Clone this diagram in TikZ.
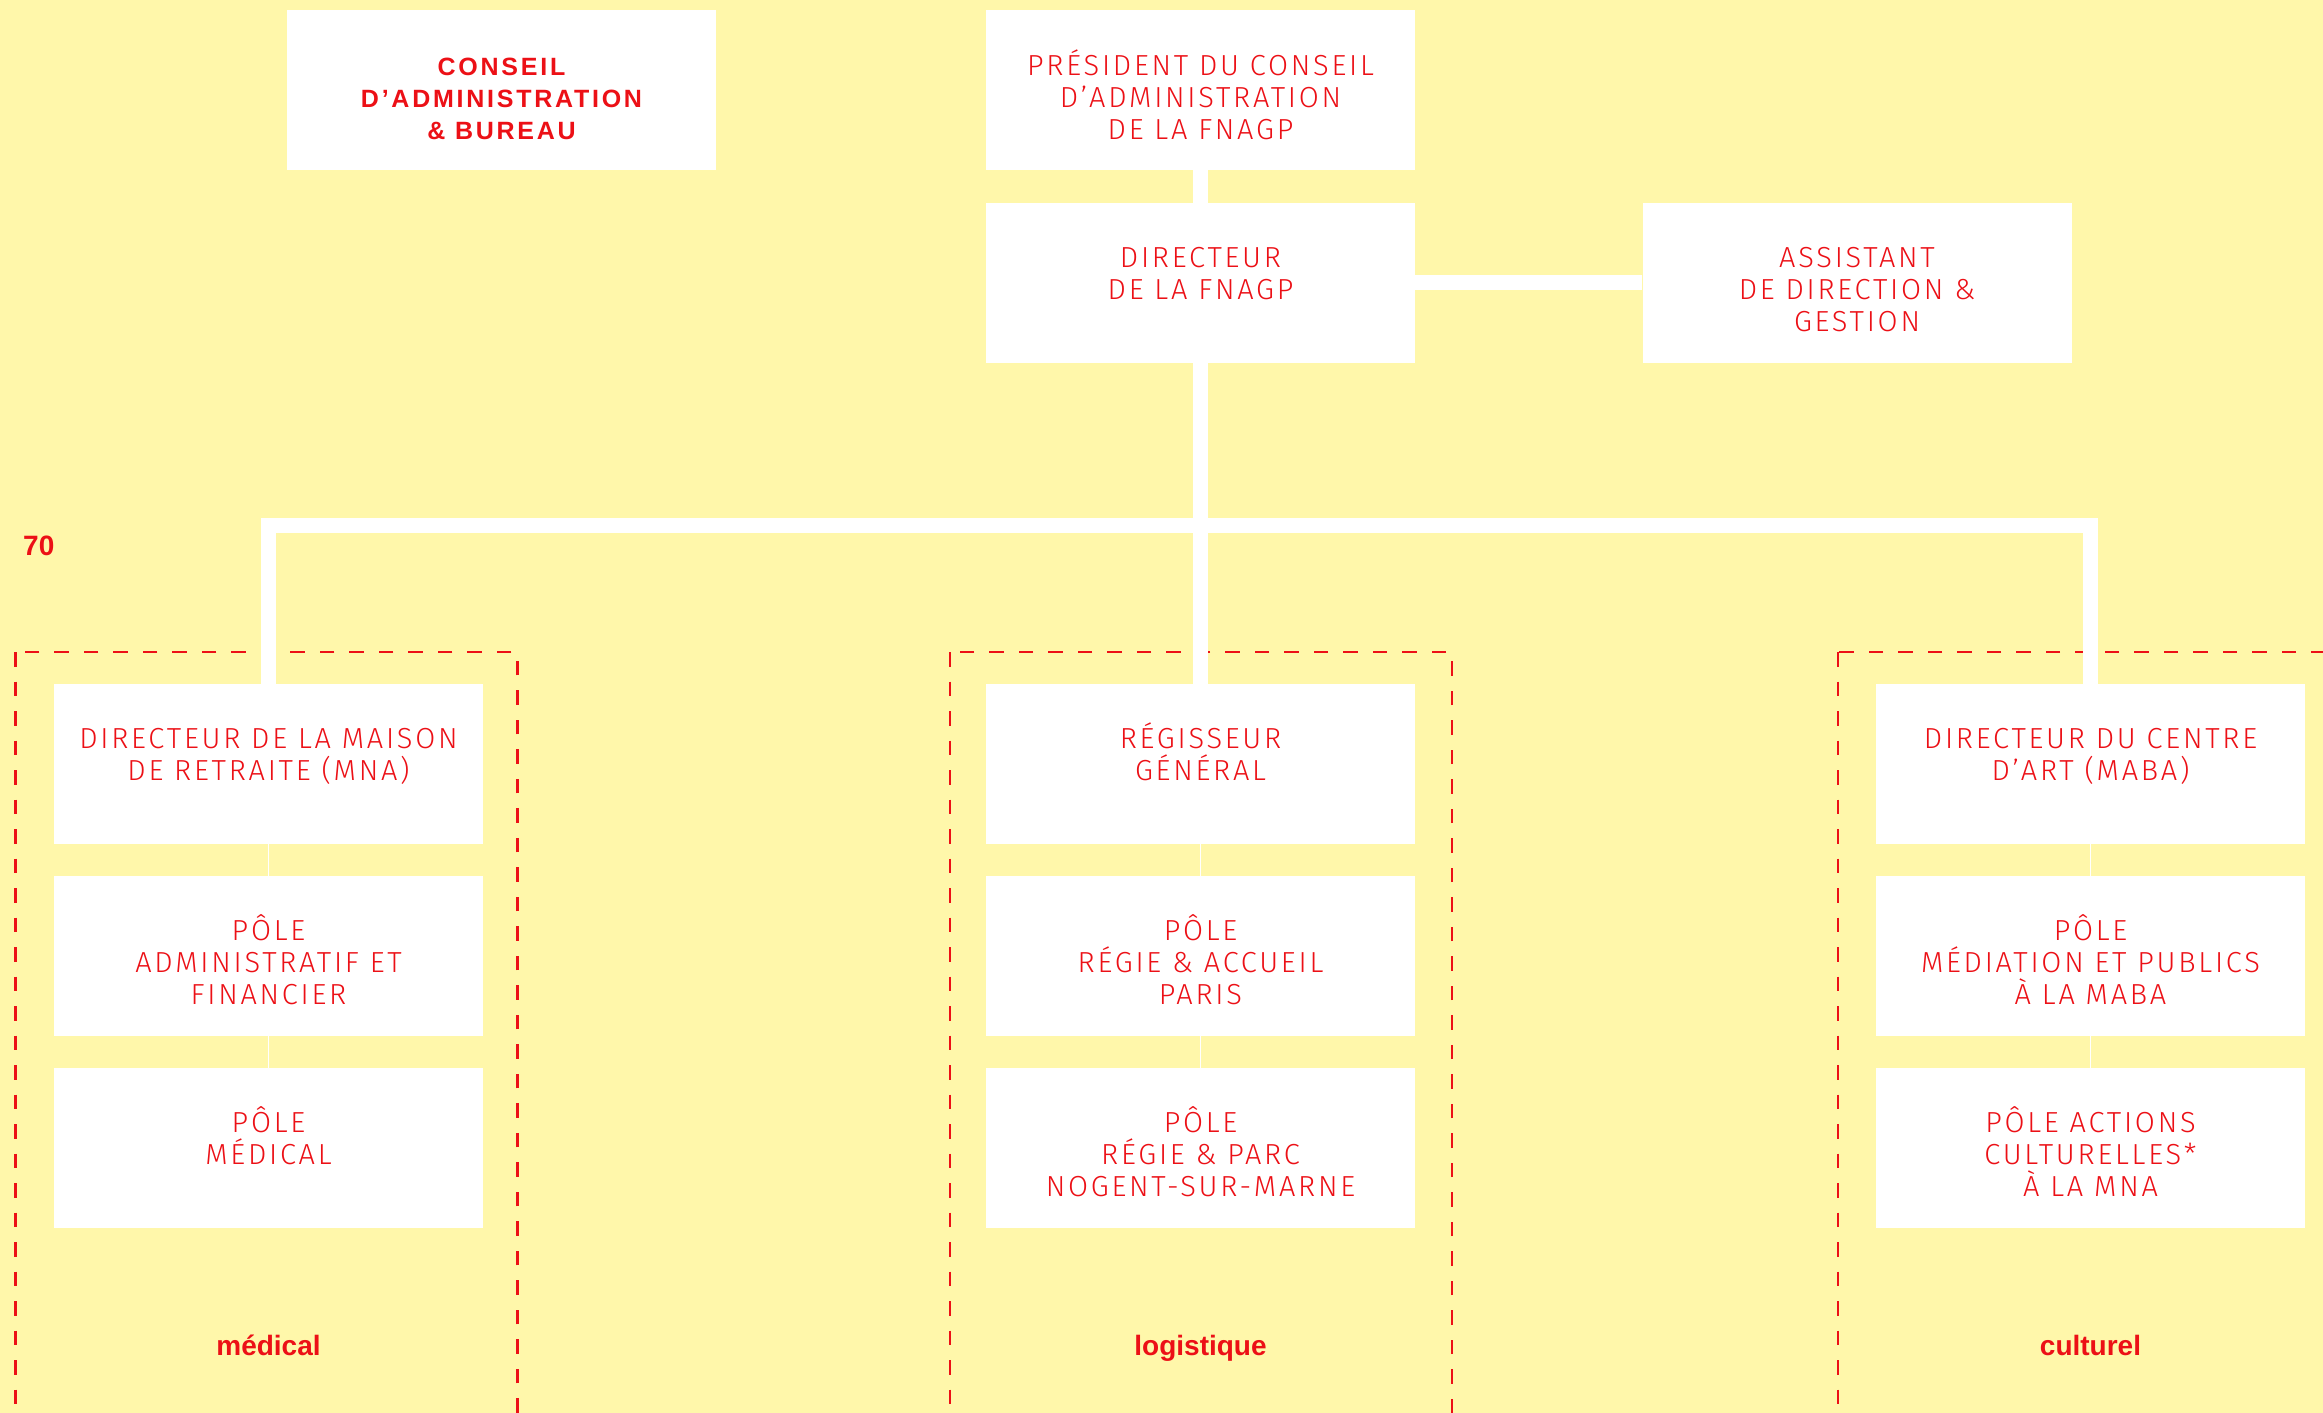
\documentclass[tikz,border=0pt]{standalone}
\usepackage{fontspec}
\IfFontExistsTF{Fira Sans Light}
  {\newfontfamily\boxfont{Fira Sans Light}[LetterSpace=9.5]}
  {\newfontfamily\boxfont{Fira Sans}[LetterSpace=9.5]}
\newfontfamily\boldfont{Liberation Sans}[LetterSpace=11]
\newfontfamily\labelfont{Liberation Sans}
\definecolor{fred}{RGB}{236,16,22}
\definecolor{fbg}{RGB}{255,247,170}
\begin{document}
\begin{tikzpicture}[x=1pt, y=-1pt,
  box/.style={fill=white, inner sep=0pt, minimum width=429pt, minimum height=160pt,
    text height=65pt, text depth=95pt, align=center, text=fred,
    font=\boxfont\fontsize{29}{32}\selectfont, anchor=north},
  twol/.style={text height=97pt, text depth=63pt},
  threel/.style={text height=129pt, text depth=31pt},
  boldbox/.style={box, font=\boldfont\bfseries\fontsize{25}{32}\selectfont},
  conn/.style={draw=white, line width=15pt, line join=miter},
  thin/.style={draw=white, line width=1.5pt},
  dashbox/.style={draw=fred, line width=2.5pt, dash pattern=on 14.5pt off 15pt},
  lbl/.style={text=fred, inner sep=0pt, anchor=base, font=\labelfont\bfseries\fontsize{28}{30}\selectfont}]
\useasboundingbox (0,0) rectangle (2323,1413);
\fill[fbg] (0,0) rectangle (2323,1413);
\begin{scope}
  \clip (0,0) rectangle (2323,1413);
  \draw[dashbox] (15.7,652) rectangle (517.5,1460);
  \draw[dashbox] (950,652) rectangle (1452,1460);
  \draw[dashbox] (1838,652) rectangle (2380,1460);
\end{scope}

% top level
\node[boldbox, threel] (conseil) at (501.5,10) {CONSEIL\\D’ADMINISTRATION\\\& BUREAU};
\node[box, threel] (pres) at (1200.5,10) {PRÉSIDENT DU CONSEIL\\D’ADMINISTRATION\\DE LA FNAGP};
\node[box, twol] (dir) at (1200.5,202.5) {DIRECTEUR\\DE LA FNAGP};
\node[box, threel] (asst) at (1857,202.5) {ASSISTANT\\DE DIRECTION \&\\GESTION};

% left column
\node[box, twol] (mna) at (268.5,683.5) {DIRECTEUR DE LA MAISON\\DE RETRAITE (MNA)};
\node[box, threel] (adm) at (268.5,875.5) {PÔLE\\ADMINISTRATIF ET\\FINANCIER};
\node[box, twol] (med) at (268.5,1067.5) {PÔLE\\MÉDICAL};
% centre column
\node[box, twol] (reg) at (1200.5,683.5) {RÉGISSEUR\\GÉNÉRAL};
\node[box, threel] (regie) at (1200.5,875.5) {PÔLE\\RÉGIE \& ACCUEIL\\PARIS};
\node[box, threel] (parc) at (1200.5,1067.5) {PÔLE\\RÉGIE \& PARC\\NOGENT-SUR-MARNE};
% right column
\node[box, twol] (maba) at (2090.5,683.5) {DIRECTEUR DU CENTRE\\D’ART (MABA)};
\node[box, threel] (medi) at (2090.5,875.5) {PÔLE\\MÉDIATION ET PUBLICS\\À LA MABA};
\node[box, threel] (act) at (2090.5,1067.5) {PÔLE ACTIONS\\CULTURELLES*\\À LA MNA};

% labels
\node[lbl, anchor=base west] (pagenum) at (23,555) {70};
\node[lbl] (lmed) at (268.5,1355) {médical};
\node[lbl] (llog) at (1200.5,1355) {logistique};
\node[lbl] (lcul) at (2090.5,1355) {culturel};

% connectors
\coordinate (bus) at (1200.5,525);
\draw[conn] (pres.south) -- (dir.north);
\draw[conn] (dir.east) -- (asst.west);
\draw[conn] (dir.south) -- (reg.north);
\draw[conn] (mna.north) |- (bus) -| (maba.north);
\draw[thin] (mna.south) -- (adm.north);
\draw[thin] (adm.south) -- (med.north);
\draw[thin] (reg.south) -- (regie.north);
\draw[thin] (regie.south) -- (parc.north);
\draw[thin] (maba.south) -- (medi.north);
\draw[thin] (medi.south) -- (act.north);
\end{tikzpicture}
\end{document}
